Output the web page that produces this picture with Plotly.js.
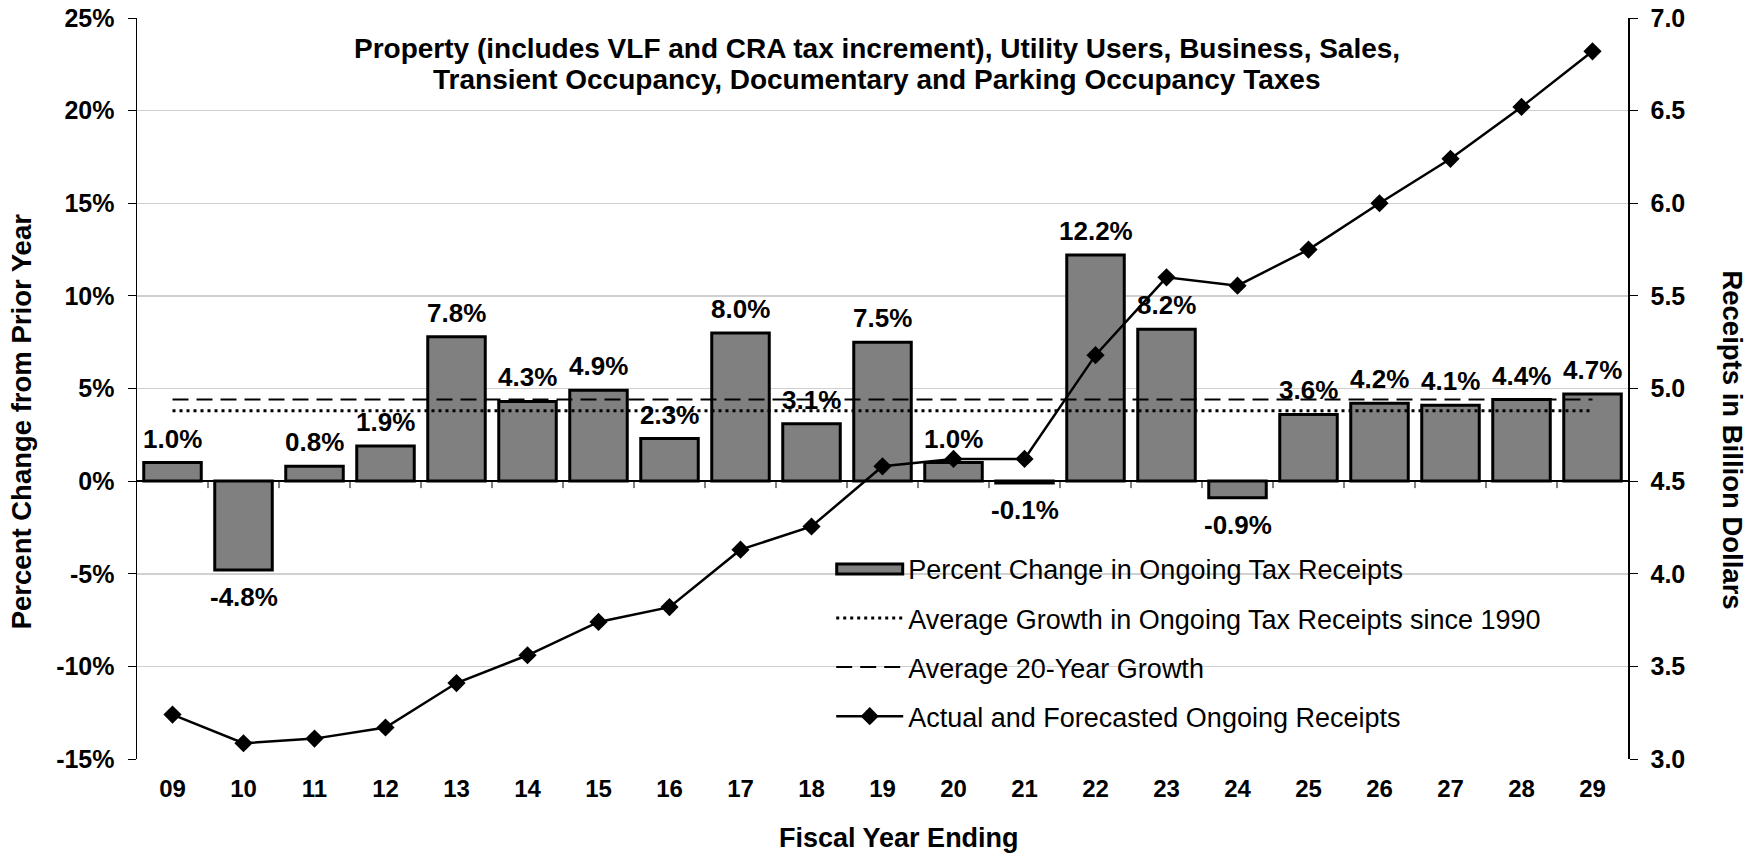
<!DOCTYPE html>
<html>
<head>
<meta charset="utf-8">
<script src="https://cdn.plot.ly/plotly-3.0.1.min.js"></script>
<style>html,body{margin:0;padding:0;background:#fff}#chart{width:1762px;height:853px}</style>
</head>
<body>
<div id="chart"></div>
<script>
// ---- data ----
const years = ["09","10","11","12","13","14","15","16","17","18","19","20","21","22","23","24","25","26","27","28","29"];
const pctChange = [1.0,-4.8,0.8,1.9,7.8,4.3,4.9,2.3,8.0,3.1,7.5,1.0,-0.1,12.2,8.2,-0.9,3.6,4.2,4.1,4.4,4.7];
const receipts = [3.24,3.085,3.11,3.17,3.41,3.56,3.74,3.82,4.13,4.255,4.58,4.62,4.62,5.18,5.60,5.555,5.75,6.0,6.24,6.52,6.82];
const avgSince1990 = 3.8;
const avg20Year = 4.4;
const leftTicks = [-15,-10,-5,0,5,10,15,20,25];
const rightTicks = [3.0,3.5,4.0,4.5,5.0,5.5,6.0,6.5,7.0];
const seriesNames = [
  "Percent Change in Ongoing Tax Receipts",
  "Average Growth in Ongoing Tax Receipts since 1990",
  "Average 20-Year Growth",
  "Actual and Forecasted Ongoing Receipts"
];
const titleLines = [
  "Property (includes VLF and CRA tax increment), Utility Users, Business, Sales,",
  "Transient Occupancy, Documentary and Parking Occupancy Taxes"
];
const leftTitle = "Percent Change from Prior Year";
const rightTitle = "Receipts in Billion Dollars";
const xTitle = "Fiscal Year Ending";

// ---- styling ----
const FONT = "Liberation Sans, Arial, sans-serif";
const first = years[0], last = years[years.length-1];

const traces = [
  {
    type: "bar", x: years, y: pctChange, name: seriesNames[0],
    marker: {color: "#808080", line: {color: "#000", width: 3}},
    legendgroup: "a", hoverinfo: "x+y"
  },
  {
    type: "scatter", mode: "lines", x: [first, last], y: [avgSince1990, avgSince1990],
    name: seriesNames[1], line: {color: "#000", width: 3, dash: "3px,4px"},
    legendgroup: "b"
  },
  {
    type: "scatter", mode: "lines", x: [first, last], y: [avg20Year, avg20Year],
    name: seriesNames[2], line: {color: "#000", width: 2, dash: "16px,8px"},
    legendgroup: "c"
  },
  {
    type: "scatter", mode: "lines+markers", x: years, y: receipts, yaxis: "y2",
    name: seriesNames[3], line: {color: "#000", width: 2.5},
    marker: {symbol: "diamond", size: 14, color: "#000"},
    legendgroup: "d"
  }
];

const annotations = [];
pctChange.forEach((v, i) => {
  annotations.push({
    x: i, y: v, xref: "x", yref: "y",
    text: v.toFixed(1) + "%", showarrow: false,
    yanchor: v >= 0 ? "bottom" : "top",
    yshift: v >= 0 ? 7 : -10,
    font: {family: FONT, size: 26, color: "#000", weight: "bold"}
  });
});
[0.9595, 0.9167].forEach((yy, k) => {
  annotations.push({
    xref: "paper", yref: "paper", x: 0.4961, y: yy, xanchor: "center", yanchor: "middle",
    text: titleLines[k], showarrow: false,
    font: {family: FONT, size: 28, color: "#000", weight: "bold"}
  });
});
annotations.push({
  xref: "paper", yref: "paper", x: -0.0775, y: 0.455, xanchor: "center", yanchor: "middle",
  text: leftTitle, textangle: -90, showarrow: false,
  font: {family: FONT, size: 27.5, color: "#000", weight: "bold"}
});
annotations.push({
  xref: "paper", yref: "paper", x: 1.0704, y: 0.43, xanchor: "center", yanchor: "middle",
  text: rightTitle, textangle: 90, showarrow: false,
  font: {family: FONT, size: 27.5, color: "#000", weight: "bold"}
});
annotations.push({
  xref: "paper", yref: "paper", x: 0.511, y: -0.1067, xanchor: "center", yanchor: "middle",
  text: xTitle, showarrow: false,
  font: {family: FONT, size: 27, color: "#000", weight: "bold"}
});

// category boundary ticks on the zero line
const shapes = [];
for (let i = 0; i < years.length - 1; i++) {
  shapes.push({
    type: "line", xref: "x", yref: "y", ysizemode: "pixel", yanchor: 0,
    x0: i + 0.5, x1: i + 0.5, y0: 0, y1: -7,
    line: {color: "#000", width: 1}
  });
}

const layout = {
  width: 1762, height: 853,
  margin: {l: 136.5, r: 134, t: 18, b: 94, pad: 0},
  paper_bgcolor: "#fff", plot_bgcolor: "#fff",
  font: {family: FONT, color: "#000"},
  bargap: 0.19,
  showlegend: true,
  legend: {
    x: 0.4656, y: 0.289, xanchor: "left", yanchor: "top",
    bgcolor: "rgba(0,0,0,0)", borderwidth: 0,
    font: {family: FONT, size: 27, color: "#000"},
    traceorder: "grouped", tracegroupgap: 11, itemwidth: 67
  },
  xaxis: {
    type: "category", range: [-0.5, years.length - 0.5],
    showgrid: false, showline: false, zeroline: false, ticks: "",
    tickfont: {family: FONT, size: 24, color: "#000", weight: "bold"},
    ticklabelstandoff: 13
  },
  yaxis: {
    range: [-15, 25], tickmode: "array", tickvals: leftTicks,
    ticktext: leftTicks.map(v => String(v) + "%"),
    showgrid: true, gridcolor: "#d0d0d0", gridwidth: 1.5,
    zeroline: true, zerolinecolor: "#000", zerolinewidth: 1.5,
    showline: true, linecolor: "#000", linewidth: 1.5,
    ticks: "outside", ticklen: 8, tickcolor: "#000",
    tickfont: {family: FONT, size: 25, color: "#000", weight: "bold"},
    ticklabelstandoff: 8
  },
  yaxis2: {
    overlaying: "y", side: "right", range: [3.0, 7.0], tickmode: "array",
    tickvals: rightTicks, ticktext: rightTicks.map(v => v.toFixed(1)),
    showgrid: false, zeroline: false,
    showline: true, linecolor: "#000", linewidth: 1.5,
    ticks: "outside", ticklen: 8, tickcolor: "#000",
    tickfont: {family: FONT, size: 25, color: "#000", weight: "bold"},
    ticklabelstandoff: 8
  },
  annotations: annotations,
  shapes: shapes
};

Plotly.newPlot("chart", traces, layout, {displayModeBar: false, staticPlot: true}).then(gd => {
  // widen the bar legend swatch to a long rectangle like the original
  const items = gd.querySelectorAll(".legend .traces");
  if (items.length) {
    const p = items[0].querySelector(".legendpoints path");
    if (p) {
      const bb = p.getBBox();
      const cx = bb.x + bb.width / 2, cy = bb.y + bb.height / 2;
      p.setAttribute("d", `M${cx - 33},${cy - 5}h66v10h-66Z`);
      p.style.strokeWidth = "3px";
      p.style.stroke = "#000";
    }
  }
});
</script>
</body>
</html>
